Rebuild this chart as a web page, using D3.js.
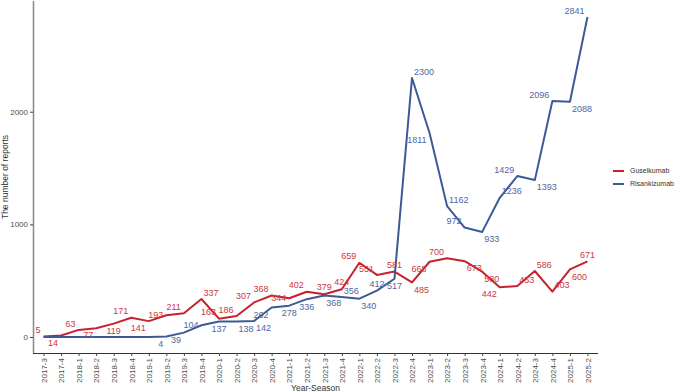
<!DOCTYPE html>
<html>
<head>
<meta charset="utf-8">
<script src="https://cdn.jsdelivr.net/npm/d3@7"></script>
<style>
    body { margin: 0; background: #fff; }
    svg { font-family: "Liberation Sans", Arial, sans-serif; }
    .axis text { fill: #4d4d4d; font-size: 8px; }
    .axis line { stroke: #444; }
    .x-axis path { stroke: #333; stroke-width: 1.1px; }
    .y-axis path { stroke: #888; stroke-width: 1.5px; }
    .line { fill: none; stroke-width: 2px; stroke-linejoin: round; }
    .lab { font-size: 9px; }
</style>
</head>
<body>
<div id="chart"></div>
<script>
// quarters on the x axis
const seasons = ['2017-3', '2017-4',
    '2018-1', '2018-2', '2018-3', '2018-4',
    '2019-1', '2019-2', '2019-3', '2019-4',
    '2020-1', '2020-2', '2020-3', '2020-4',
    '2021-1', '2021-2', '2021-3', '2021-4',
    '2022-1', '2022-2', '2022-3', '2022-4',
    '2023-1', '2023-2', '2023-3', '2023-4',
    '2024-1', '2024-2', '2024-3', '2024-4',
    '2025-1', '2025-2'];

const guselkumab = [5, 14, 63, 77, 119, 171, 141, 193, 211, 337, 163, 186, 307, 368, 344, 402,
    379, 424, 659, 551, 581, 485, 668, 700, 673, 580, 442, 453, 586, 403, 600, 671];

// zero before 2019-2 (no label drawn for those)
const risankizumab = [0, 0, 0, 0, 0, 0, 0, 4, 39, 104, 137, 138, 142, 262, 278, 336,
    368, 356, 340, 412, 517, 2300, 1811, 1162, 972, 933, 1236, 1429, 1393, 2096, 2088, 2841];

const yTicks = [0, 1000, 2000];

// where each value label sits next to its point (u/d/l/r combos)
const gusSide = ['ul', 'dl', 'ul', 'dl', 'd', 'ul', 'dl', 'l', 'ul', 'ur', 'ul', 'ul', 'ul', 'ul', 'l', 'ul',
    'u', 'u', 'ul', 'ul', 'u', 'dr', 'dl', 'ul', 'dr', 'dr', 'dl', 'ur', 'ur', 'ur', 'dr', 'u'];
const risSide = ['', '', '', '', '', '', '', 'dl', 'dl', 'l', 'd', 'dr', 'dr', 'dl', 'd', 'd',
    'dr', 'ur', 'dr', 'u', 'd', 'ur', 'dl', 'ur', 'ul', 'dr', 'ur', 'ul', 'dr', 'ul', 'dr', 'ul'];

const series = [
    {name: 'Guselkumab', values: guselkumab, side: gusSide, color: '#c8202f', text: '#cf3640'},
    {name: 'Risankizumab', values: risankizumab, side: risSide, color: '#3c5a96', text: '#4d68a2'}
];

const W = 675, H = 392;
const plot = {left: 33, right: 598, top: 1, bottom: 353};

let svg = d3.select('#chart').append('svg')
    .attr('width', W)
    .attr('height', H);

let x = d3.scalePoint()
    .domain(seasons)
    .range([plot.left, plot.right])
    .padding(0.6);

const maxV = d3.max(risankizumab);
const pad = maxV * 0.05;
let y = d3.scaleLinear()
    .domain([-pad, maxV + pad])
    .range([plot.bottom, plot.top]);

// x axis
let gx = svg.append('g')
    .attr('class', 'axis x-axis')
    .attr('transform', 'translate(0,' + plot.bottom + ')')
    .call(d3.axisBottom(x).tickSizeOuter(0).tickSize(3));
gx.select('.domain').attr('d', 'M' + plot.left + ',0.5H' + plot.right);
gx.selectAll('text')
    .attr('transform', 'rotate(-90)')
    .attr('text-anchor', 'end')
    .attr('x', -5)
    .attr('y', 0)
    .attr('dy', '0.35em');

// y axis
let gy = svg.append('g')
    .attr('class', 'axis y-axis')
    .attr('transform', 'translate(' + plot.left + ',0)')
    .call(d3.axisLeft(y).tickValues(yTicks).tickSize(3).tickFormat(d3.format('d')));
gy.select('.domain').attr('d', 'M0.5,' + plot.bottom + 'V' + plot.top);
gy.selectAll('text').attr('x', -5);

// axis titles
svg.append('text')
    .attr('x', (plot.left + plot.right) / 2)
    .attr('y', 391)
    .attr('text-anchor', 'middle')
    .attr('font-size', 8.5)
    .attr('fill', '#333')
    .text('Year-Season');

svg.append('text')
    .attr('transform', 'translate(8,' + ((plot.top + plot.bottom) / 2) + ') rotate(-90)')
    .attr('text-anchor', 'middle')
    .attr('font-size', 8.5)
    .attr('fill', '#333')
    .text('The number of reports');

// lines
let line = d3.line()
    .x(function(d, i) { return x(seasons[i]); })
    .y(function(d) { return y(d); });

series.forEach(function(s) {
    svg.append('path')
        .datum(s.values)
        .attr('class', 'line')
        .attr('stroke', s.color)
        .attr('d', line);
});

// value labels
const offs = {
    u: [0, -7, 'middle'], d: [0, 7.5, 'middle'],
    l: [-3, 0, 'end'], r: [3, 0, 'start'],
    ul: [-3, -6.5, 'end'], ur: [2, -6.5, 'start'],
    dl: [-3, 7, 'end'], dr: [2, 7, 'start']
};

series.forEach(function(s) {
    let pts = s.values.map(function(v, i) { return {v: v, i: i, side: s.side[i]}; })
        .filter(function(d) { return d.side; });
    svg.append('g').selectAll('text')
        .data(pts)
        .enter().append('text')
        .attr('class', 'lab')
        .attr('fill', s.text)
        .attr('x', function(d) { return x(seasons[d.i]) + offs[d.side][0]; })
        .attr('y', function(d) { return y(d.v) + offs[d.side][1]; })
        .attr('dy', '0.35em')
        .attr('text-anchor', function(d) { return offs[d.side][2]; })
        .text(function(d) { return d.v; });
});

// legend
let lg = svg.append('g').attr('transform', 'translate(613,171)');
series.forEach(function(s, i) {
    let row = lg.append('g').attr('transform', 'translate(0,' + (i * 13) + ')');
    row.append('line')
        .attr('x1', 0).attr('x2', 11)
        .attr('stroke', s.color)
        .attr('stroke-width', 2);
    row.append('text')
        .attr('x', 17)
        .attr('dy', '0.35em')
        .attr('font-size', 7)
        .attr('fill', '#333')
        .text(s.name);
});
</script>
</body>
</html>
